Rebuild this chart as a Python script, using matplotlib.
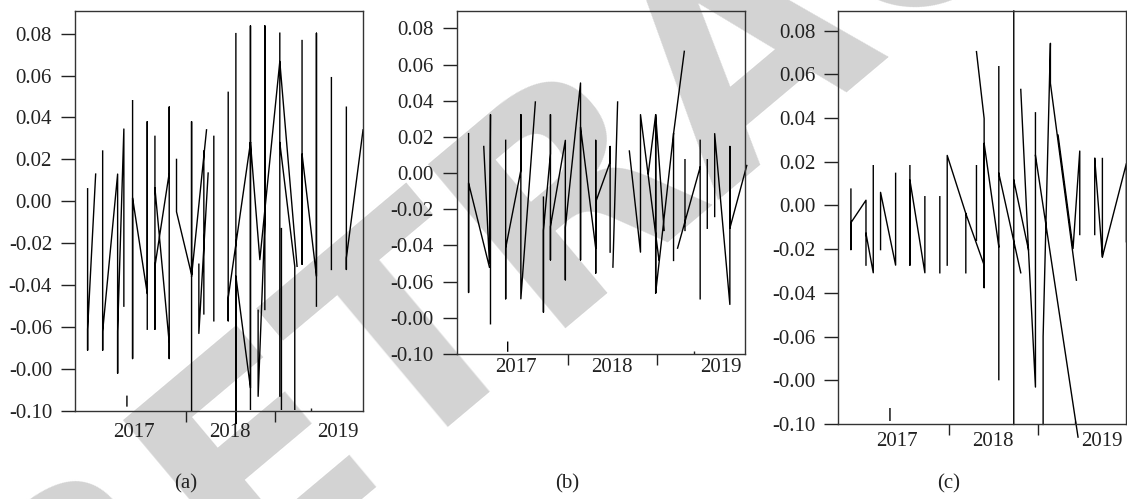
import matplotlib.pyplot as plt
import numpy as np

plt.rcParams["font.family"] = ["Liberation Serif", "DejaVu Serif"]

nan = np.nan

# panel (a): year / return pairs, nan breaks the trace
A_YEAR = [2016.517, 2016.517, 2016.517, 2016.601, nan,
          2016.674, 2016.674, 2016.674, 2016.830, 2016.830, 2016.830, 2016.895, 2016.895, nan,
          2016.986, 2016.986, 2016.986, 2017.139, 2017.139, 2017.139, nan,
          2017.219, 2017.219, 2017.219, 2017.368, 2017.368, 2017.368, 2017.368, 2017.219, nan,
          2017.444, 2017.444, 2017.601, 2017.601, 2017.601, nan,
          2017.601, 2017.757, nan,
          2017.677, 2017.677, 2017.774, nan,
          2017.729, 2017.729, nan,
          2017.833, 2017.833, nan,
          2017.983, 2017.983, 2017.983, 2018.215, nan,
          2018.063, 2018.063, 2018.063, 2018.215, 2018.215, 2018.215, nan,
          2018.215, 2018.313, 2018.521, 2018.701, nan,
          2018.295, 2018.295, 2018.365, 2018.365, 2018.365, nan,
          2018.521, 2018.521, nan,
          2018.538, 2018.538, nan,
          2018.521, 2018.677, 2018.677, nan,
          2018.753, 2018.753, 2018.753, 2018.903, 2018.903, 2018.903, nan,
          2019.059, 2019.059, nan,
          2019.215, 2019.215, 2019.215, 2019.389, nan,
          2016.927, 2016.927]
A_VALUE = [0.006, -0.071, -0.061, 0.013, nan,
           0.024, -0.071, -0.062, 0.013, -0.082, -0.062, 0.0345, -0.050, nan,
           0.048, -0.075, 0.0016, -0.044, 0.038, -0.061, nan,
           0.031, -0.061, -0.031, 0.0135, 0.045, -0.075, -0.0675, 0.0063, nan,
           0.020, -0.005, -0.035, 0.038, -0.0997, nan,
           -0.0357, 0.0341, nan,
           -0.030, -0.063, 0.0135, nan,
           0.024, -0.0537, nan,
           0.031, -0.057, nan,
           0.052, -0.057, -0.046, 0.028, nan,
           0.080, -0.106, -0.0357, -0.089, 0.0837, -0.0992, nan,
           0.028, -0.0278, 0.0667, -0.031, nan,
           -0.052, -0.093, -0.010, 0.0837, -0.0516, nan,
           0.0802, -0.0929, nan,
           -0.013, -0.0992, nan,
           0.028, -0.031, -0.0992, nan,
           0.0767, -0.030, 0.0225, -0.0357, 0.0802, -0.050, nan,
           0.059, -0.0325, nan,
           0.0449, -0.0325, -0.027, 0.0341, nan,
           -0.093, -0.0976]

# panel (b)
B_YEAR = [2016.509, 2016.509, 2016.509, 2016.726, nan,
          2016.667, 2016.726, 2016.737, 2016.737, nan,
          2016.895, 2016.895, 2016.895, 2017.053, 2017.053, 2017.053, 2017.204, nan,
          2017.288, 2017.288, 2017.288, 2017.361, 2017.361, 2017.361, 2017.361, 2017.516,
          2017.516, 2017.516, 2017.674, 2017.674, 2017.674, 2017.832, 2017.832, 2017.832,
          2017.832, 2017.982, 2017.982, 2017.982, nan,
          2018.011, 2018.060, nan,
          2018.182, 2018.298, 2018.298, 2018.490, nan,
          2018.379, 2018.456, 2018.456, 2018.456, 2018.544, nan,
          2018.456, 2018.642, nan,
          2018.642, 2018.642, 2018.754, nan,
          2018.684, 2018.919, nan,
          2018.761, 2018.761, nan,
          2018.919, 2018.919, nan,
          2018.993, 2018.993, nan,
          2019.070, 2019.070, 2019.228, 2019.228, 2019.228, 2019.404, nan,
          2016.916, 2016.916]
B_VALUE = [0.0218, -0.066, -0.0055, -0.052, nan,
           0.0147, -0.050, 0.0323, -0.0833, nan,
           0.0181, -0.0695, -0.0415, 0.0015, 0.0323, -0.0695, 0.0393, nan,
           -0.0133, -0.0769, -0.0317, 0.0107, 0.0323, -0.048, -0.0296, 0.0181,
           -0.059, -0.030, 0.0498, -0.048, 0.0254, -0.0415, 0.0181, -0.0553,
           -0.016, 0.0061, 0.0147, -0.0437, nan,
           -0.052, 0.0393, nan,
           0.0122, -0.0437, 0.0323, -0.048, nan,
           -0.0003, 0.0323, -0.0662, 0.0323, -0.0317, nan,
           -0.0662, 0.0218, nan,
           -0.0483, 0.0218, 0.0673, nan,
           -0.0415, 0.0033, nan,
           0.0074, -0.0317, nan,
           0.0181, -0.0695, nan,
           0.0074, -0.0305, nan,
           -0.024, 0.0218, -0.0726, 0.0147, -0.0305, 0.0042, nan,
           -0.0935, -0.0984]

# panel (c)
C_YEAR = [2016.517, 2016.517, 2016.517, 2016.674, 2016.674, nan,
          2016.674, 2016.750, 2016.750, nan,
          2016.826, 2016.826, 2016.983, 2016.983, nan,
          2017.132, 2017.132, 2017.132, 2017.288, 2017.288, nan,
          2017.444, 2017.444, nan,
          2017.521, 2017.521, 2017.715, 2017.906, nan,
          2017.715, 2017.715, nan,
          2017.826, 2017.826, nan,
          2017.826, 2017.906, 2017.906, 2017.906, 2018.059, nan,
          2018.059, 2018.059, nan,
          2018.059, 2018.288, nan,
          2018.215, 2018.215, nan,
          2018.215, 2018.368, 2018.441, 2018.441, nan,
          2018.288, 2018.368, nan,
          2018.441, 2018.885, nan,
          2018.521, 2018.521, 2018.597, 2018.597, 2018.868, nan,
          2018.677, 2018.833, 2018.903, 2018.903, nan,
          2019.059, 2019.059, nan,
          2019.059, 2019.139, 2019.389, 2019.389, nan,
          2019.139, 2019.139, nan,
          2016.924, 2016.924]
C_VALUE = [0.0075, -0.0202, -0.0079, 0.0024, -0.0273, nan,
           -0.0128, -0.0308, 0.0182, nan,
           -0.0202, 0.006, -0.0273, 0.0147, nan,
           0.0182, -0.0273, 0.0116, -0.0308, 0.004, nan,
           0.004, -0.0308, nan,
           -0.0273, 0.0229, -0.0037, -0.0273, nan,
           -0.0037, -0.0308, nan,
           0.0182, -0.0159, nan,
           0.0704, 0.0398, -0.0376, 0.0284, -0.0189, nan,
           0.0635, -0.0797, nan,
           0.0147, -0.0308, nan,
           0.089, -0.1002, nan,
           0.0116, -0.0202, -0.0831, 0.0424, nan,
           0.0531, -0.0202, nan,
           0.0229, -0.106, nan,
           -0.1002, -0.060, 0.0742, 0.0559, -0.0342, nan,
           0.0322, -0.0197, 0.0249, -0.0133, nan,
           0.0215, -0.0133, nan,
           0.0215, -0.0235, 0.0192, -0.0166, nan,
           0.0215, -0.0235, nan,
           -0.093, -0.0983]

Y_TICKS = [0.08, 0.06, 0.04, 0.02, 0.00, -0.02, -0.04, -0.06, -0.08, -0.10]
Y_LABELS = ["0.08", "0.06", "0.04", "0.02", "0.00", "-0.02", "-0.04", "-0.06", "-0.00", "-0.10"]
YEAR_TICKS = [2017.0, 2018.0, 2019.13]
YEAR_LABELS = ["2017", "2018", "2019"]
INNER_TICKS = [2017.0, 2018.0, 2018.85]
OUTER_TICKS = [2017.54, 2018.47]
X_RANGE = (2016.385, 2019.385)


def draw_panel(fig, rect, years, values, y_top, x_pad):
    ax = fig.add_axes(rect)
    ax.set_facecolor("none")
    ax.plot(years, values, color="black", lw=1.0, clip_on=False)

    ax.set_xlim(*X_RANGE)
    ax.set_ylim(-0.10, y_top)
    ax.set_yticks(Y_TICKS, Y_LABELS)
    ax.set_xticks(YEAR_TICKS, YEAR_LABELS)
    ax.set_xticks(INNER_TICKS, minor=True)

    ax.tick_params(axis="y", direction="out", length=10, width=1, pad=6.5,
                   labelsize=15, colors="#222222")
    ax.tick_params(axis="x", which="major", length=0, pad=x_pad,
                   labelsize=15, colors="#222222")
    ax.tick_params(axis="x", which="minor", direction="in", length=2.5, width=1,
                   colors="#222222")

    sec = ax.secondary_xaxis("bottom")
    sec.set_xticks(OUTER_TICKS)
    sec.tick_params(direction="out", length=8, width=1, labelbottom=False,
                    colors="#222222")
    sec.spines["bottom"].set_visible(False)

    for spine in ax.spines.values():
        spine.set_color("#333333")
        spine.set_linewidth(1.0)
    return ax


fig = plt.figure(figsize=(11.27, 4.99), dpi=100)

# diagonal watermark of the source page, only partly inside the crop
fig.text(0.0556, -0.4585, "RETRACTED", rotation=40, rotation_mode="anchor",
         ha="left", va="baseline", fontsize=210, fontweight="bold",
         family="DejaVu Sans", color="#d3d3d3", zorder=-1)

draw_panel(fig, [0.0665, 0.1764, 0.2553, 0.8016], A_YEAR, A_VALUE, 0.0908, 9)
draw_panel(fig, [0.4052, 0.2906, 0.2558, 0.6874], B_YEAR, B_VALUE, 0.0896, 3.2)
draw_panel(fig, [0.7438, 0.1503, 0.2553, 0.8277], C_YEAR, C_VALUE, 0.089, 6)

for x, letter in [(186, "(a)"), (567, "(b)"), (949, "(c)")]:
    fig.text(x / 1127, 0.030, letter, ha="center", va="center", fontsize=15,
             color="#222222")

fig.savefig("out.png", dpi=100)
